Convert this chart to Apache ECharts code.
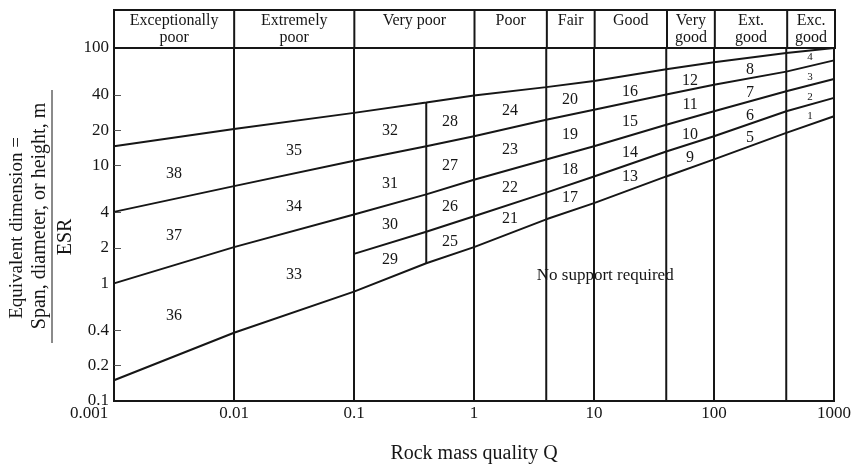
<!DOCTYPE html>
<html>
<head>
<meta charset="utf-8">
<script src="https://cdn.jsdelivr.net/npm/echarts@6/dist/echarts.min.js"></script>
<style>
html, body { margin: 0; padding: 0; background: #fff; }
#chart { width: 854px; height: 470px; }
</style>
</head>
<body>
<div id="chart"></div>
<script>
// rock mass classes (header band)
var classNames = ['Exceptionally\npoor', 'Extremely\npoor', 'Very poor', 'Poor', 'Fair', 'Good', 'Very\ngood', 'Ext.\ngood', 'Exc.\ngood'];
var classBounds = [0.001, 0.01, 0.1, 1, 4, 10, 40, 100, 400, 1000];

var deTicks = [0.1, 0.2, 0.4, 1, 2, 4, 10, 20, 40, 100];
var deMinorTicks = [0.2, 0.4, 2, 4, 10, 20, 40];

// boundary lines, read at these Q values (null = line not present)
var lineQ = [0.001, 0.01, 0.1, 0.4, 1, 4, 10, 40, 100, 400, 1000];
var lineA = [14.6, 20.5, 28.1, 34.4, 39.4, 46.5, 52.5, 66, 75.5, 90.8, 100];
var lineB = [4.05, 6.7, 11.0, 14.6, 17.8, 24.6, 29.9, 40.2, 48.8, 63, 78.5];
var lineC = [1.0, 2.03, 3.85, 5.7, 7.6, 11.3, 14.6, 22.3, 29, 42.9, 54.6];
var lineE = [null, null, 1.78, 2.74, 3.72, 5.9, 8.1, 13.2, 17.8, 29, 37.7];
var lineD = [0.15, 0.38, 0.85, 1.48, 2.03, 3.5, 4.8, 8.1, 11.3, 19, 26.3];

// support category numbers
var catNo = [38, 37, 36, 35, 34, 33, 32, 31, 30, 29, 28, 27, 26, 25, 24, 23, 22, 21, 20, 19, 18, 17,
             16, 15, 14, 13, 12, 11, 10, 9, 8, 7, 6, 5, 4, 3, 2, 1];
var catQ = [0.00316, 0.00316, 0.00316, 0.0316, 0.0316, 0.0316, 0.2, 0.2, 0.2, 0.2, 0.632, 0.632, 0.632, 0.632,
            2, 2, 2, 2, 6.32, 6.32, 6.32, 6.32, 20, 20, 20, 20, 63.2, 63.2, 63.2, 63.2, 200, 200, 200, 200,
            632, 632, 632, 632];
var catDe = [8.6, 2.55, 0.53, 13.5, 4.5, 1.19, 19.6, 7.05, 3.12, 1.6, 23.8, 10.0, 4.43, 2.25,
             29.0, 13.7, 6.48, 3.53, 36.4, 18.4, 9.27, 5.33, 42.8, 23.8, 12.8, 8.03, 52.7, 33.0, 18.4, 11.6,
             65.5, 41.5, 26.6, 17.2, 84, 56.8, 38.4, 26.6];

var FONT = '"Liberation Serif", "DejaVu Serif", serif';
var INK = '#161616';

function fmt(v) {
    return String(parseFloat(Number(v).toPrecision(3)));
}

function pairs(ys) {
    var out = [];
    for (var i = 0; i < lineQ.length; i++) {
        if (ys[i] != null) out.push([lineQ[i], ys[i]]);
    }
    return out;
}

function segment(data, xi, yi) {
    return {
        type: 'line',
        xAxisIndex: xi, yAxisIndex: yi,
        data: data,
        symbol: 'none',
        silent: true,
        lineStyle: { color: INK, width: 2 }
    };
}

function textSeries(xi, yi, data, label) {
    return {
        type: 'scatter',
        xAxisIndex: xi, yAxisIndex: yi,
        symbolSize: 0,
        silent: true,
        itemStyle: { opacity: 1 },
        data: data,
        label: Object.assign({
            show: true, position: 'inside', formatter: '{b}',
            color: INK, fontFamily: FONT
        }, label)
    };
}

var series = [];

// full-height vertical class dividers
classBounds.slice(1, -1).forEach(function(q) {
    series.push(segment([[q, 0.1], [q, 100]], 0, 0));
    series.push(segment([[q, 0], [q, 38]], 1, 1));
});
// short divider inside "Very poor"
series.push(segment([[0.4, lineD[3]], [0.4, lineA[3]]], 0, 0));

[lineA, lineB, lineC, lineE, lineD].forEach(function(ys) {
    series.push(segment(pairs(ys), 0, 0));
});

// category numbers
series.push(textSeries(0, 0, catNo.map(function(n, i) {
    return {
        name: String(n),
        value: [catQ[i], catDe[i]],
        label: { fontSize: n <= 4 ? 11 : 16 }
    };
}), { fontSize: 16 }));

series.push(textSeries(0, 0, [{ name: 'No support required', value: [12.4, 1.17] }], { fontSize: 17 }));

// header labels
series.push(textSeries(1, 1, classNames.map(function(name, i) {
    return { name: name, value: [Math.sqrt(classBounds[i] * classBounds[i + 1]), 2] };
}), { verticalAlign: 'top', lineHeight: 17, fontSize: 16 }));

var chart = echarts.init(document.getElementById('chart'));
chart.setOption({
    animation: false,
    backgroundColor: '#fff',
    grid: [
        { left: 114, right: 19, top: 48, bottom: 69, show: true, borderColor: INK, borderWidth: 2 },
        { left: 114, right: 19, top: 10, height: 38, show: true, borderColor: INK, borderWidth: 2 }
    ],
    xAxis: [
        {
            type: 'log', gridIndex: 0, min: 0.001, max: 1000, logBase: 10,
            axisLine: { show: false }, axisTick: { show: false }, splitLine: { show: false },
            axisLabel: {
                color: INK, fontFamily: FONT, fontSize: 17, margin: 4,
                formatter: function(v) {
                    var s = fmt(v);
                    return v < 0.002 ? '{first|' + s + '}' : s;
                },
                rich: { first: { fontFamily: FONT, fontSize: 17, color: INK, padding: [0, 50, 0, 0] } }
            },
            name: 'Rock mass quality Q', nameLocation: 'middle', nameGap: 43,
            nameTextStyle: { color: INK, fontFamily: FONT, fontSize: 20 }
        },
        {
            type: 'log', gridIndex: 1, min: 0.001, max: 1000, logBase: 10, show: false
        }
    ],
    yAxis: [
        {
            type: 'log', gridIndex: 0, min: 0.1, max: 100, logBase: 10,
            axisLine: { show: false }, splitLine: { show: false },
            axisTick: { show: true, inside: true, length: 7, customValues: deMinorTicks,
                        lineStyle: { color: '#555', width: 1 } },
            axisLabel: { color: INK, fontFamily: FONT, fontSize: 17, margin: 5,
                         customValues: deTicks, formatter: fmt }
        },
        {
            type: 'value', gridIndex: 1, min: 0, max: 38, inverse: true, show: false
        }
    ],
    graphic: [
        {
            type: 'text', x: 17, y: 228, rotation: Math.PI / 2,
            style: { text: 'Equivalent dimension =', fill: INK, font: '19px ' + FONT,
                     textAlign: 'center', textVerticalAlign: 'middle' }
        },
        {
            type: 'text', x: 40, y: 216, rotation: Math.PI / 2,
            style: { text: 'Span, diameter, or height, m', fill: INK, font: '20px ' + FONT,
                     textAlign: 'center', textVerticalAlign: 'middle' }
        },
        {
            type: 'line', shape: { x1: 52, y1: 90, x2: 52, y2: 343 },
            style: { stroke: INK, lineWidth: 1 }
        },
        {
            type: 'text', x: 66, y: 237, rotation: Math.PI / 2,
            style: { text: 'ESR', fill: INK, font: '20px ' + FONT,
                     textAlign: 'center', textVerticalAlign: 'middle' }
        }
    ],
    series: series
});
</script>
</body>
</html>
